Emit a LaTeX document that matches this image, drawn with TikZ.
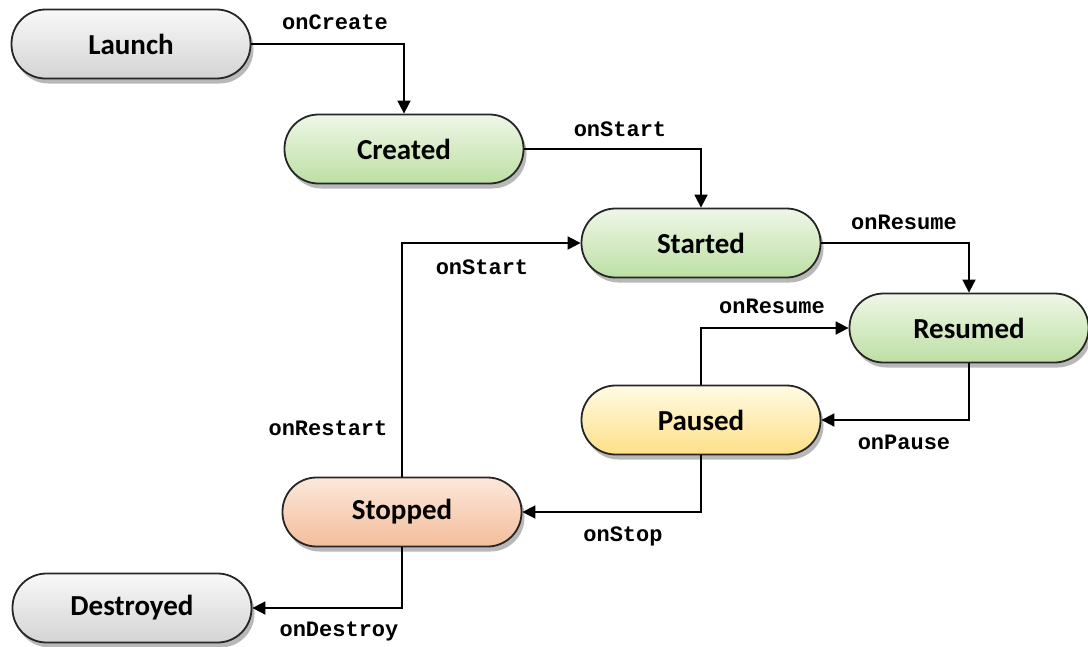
\documentclass[tikz,border=0pt]{standalone}
\usepackage{fontspec}
\newfontfamily\statefont{Carlito}
\newfontfamily\codefont{Liberation Mono}
\usetikzlibrary{arrows.meta,shadows}

\definecolor{grayTop}{HTML}{F8F8F8}
\definecolor{grayBot}{HTML}{D4D4D4}
\definecolor{greenTop}{HTML}{EFF7E8}
\definecolor{greenBot}{HTML}{BCDFA3}
\definecolor{yellowTop}{HTML}{FFFBE4}
\definecolor{yellowBot}{HTML}{FDDF86}
\definecolor{orangeTop}{HTML}{FCE8DC}
\definecolor{orangeBot}{HTML}{F4BD9A}

\tikzset{
  state/.style={
    draw=black!85, line width=1.8pt,
    rectangle, rounded corners=34pt,
    minimum width=239pt, minimum height=69pt,
    font=\statefont\bfseries\fontsize{29}{32}\selectfont,
    drop shadow={shadow xshift=3pt, shadow yshift=-5pt, opacity=0.28, fill=black}
  },
  grayState/.style={state, top color=grayTop, bottom color=grayBot},
  greenState/.style={state, top color=greenTop, bottom color=greenBot},
  yellowState/.style={state, top color=yellowTop, bottom color=yellowBot},
  orangeState/.style={state, top color=orangeTop, bottom color=orangeBot},
  conn/.style={line width=1.8pt, -{Triangle[length=13pt,width=13pt]}},
  lbl/.style={font=\codefont\bfseries\fontsize{22}{24}\selectfont, inner sep=0pt, anchor=base}
}

\begin{document}
\begin{tikzpicture}[x=1pt, y=-1pt]
  \useasboundingbox (0,0) rectangle (1088,646);

  % lifecycle states
  \node[grayState]   (launch)    at (131,44)  {Launch};
  \node[greenState]  (created)   at (404,149) {Created};
  \node[greenState]  (started)   at (701,243) {Started};
  \node[greenState]  (resumed)   at (969,328) {Resumed};
  \node[yellowState] (paused)    at (701,420) {Paused};
  \node[orangeState] (stopped)   at (402,512) {Stopped};
  \node[grayState]   (destroyed) at (132,608) {Destroyed};

  % transitions
  \draw[conn] (launch.east)   -| (created.north);
  \draw[conn] (created.east)  -| (started.north);
  \draw[conn] (started.east)  -| (resumed.north);
  \draw[conn] (resumed.south) |- (paused.east);
  \draw[conn] (paused.south)  |- (stopped.east);
  \draw[conn] (paused.north)  |- (resumed.west);
  \draw[conn] (stopped.north) |- (started.west);
  \draw[conn] (stopped.south) |- (destroyed.east);

  % callback names
  \node[lbl] (lCreate)  at (335,29)  {onCreate};
  \node[lbl] (lStart1)  at (620,136) {onStart};
  \node[lbl] (lResume1) at (904,229) {onResume};
  \node[lbl] (lResume2) at (772,313) {onResume};
  \node[lbl] (lStart2)  at (482,274) {onStart};
  \node[lbl] (lRestart) at (328,435) {onRestart};
  \node[lbl] (lPause)   at (904,449) {onPause};
  \node[lbl] (lStop)    at (623,541) {onStop};
  \node[lbl] (lDestroy) at (339,636) {onDestroy};
\end{tikzpicture}
\end{document}
